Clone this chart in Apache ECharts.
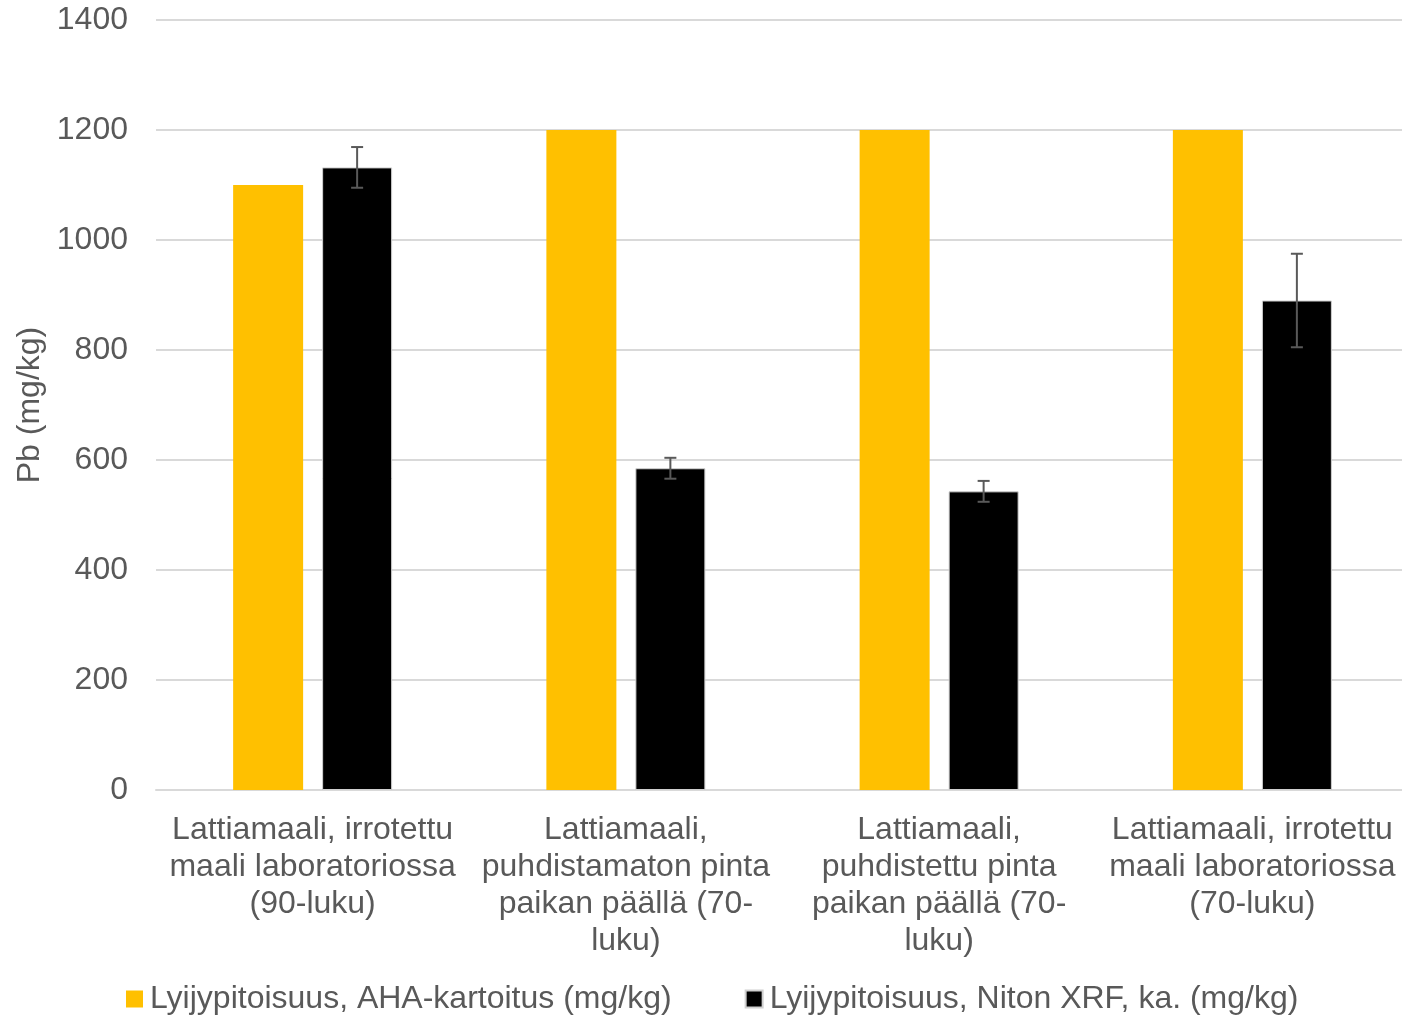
<!DOCTYPE html>
<html><head><meta charset="utf-8">
<script src="https://cdn.jsdelivr.net/npm/echarts@6/dist/echarts.min.js"></script>
<style>html,body{margin:0;padding:0;background:#fff;overflow:hidden}#c{width:1409px;height:1016px}</style>
</head><body><div id="c"></div>
<script>
const categories = [
  "Lattiamaali, irrotettu\nmaali laboratoriossa\n(90-luku)",
  "Lattiamaali,\npuhdistamaton pinta\npaikan päällä (70-\nluku)",
  "Lattiamaali,\npuhdistettu pinta\npaikan päällä (70-\nluku)",
  "Lattiamaali, irrotettu\nmaali laboratoriossa\n(70-luku)"
];
const seriesNames = ["Lyijypitoisuus, AHA-kartoitus (mg/kg)", "Lyijypitoisuus, Niton XRF, ka. (mg/kg)"];
const ahaValues = [1100, 1200, 1200, 1200];
const xrfValues = [1132, 585, 543, 890];
const xrfErrLow = [1095, 566, 524, 805];
const xrfErrHigh = [1169, 604, 562, 975];
const yTicks = [0, 200, 400, 600, 800, 1000, 1200, 1400];

const BAR_W = 70, GAP = 19;
const FONT = "'Liberation Sans', Arial, sans-serif";
const TXT = '#595959';
const FS = 32;

const chart = echarts.init(document.getElementById('c'), null, {renderer: 'canvas'});
chart.setOption({
  animation: false,
  textStyle: {fontFamily: FONT},
  grid: {left: 156, right: 0, top: 20, bottom: 226, containLabel: false},
  legend: {
    top: 978, left: 121,
    itemWidth: 17, itemHeight: 17, itemGap: 73,
    icon: 'rect',
    textStyle: {fontFamily: FONT, fontSize: FS, color: TXT, padding: [0, 0, 0, 2]},
    data: seriesNames
  },
  xAxis: {
    type: 'category', data: categories,
    axisTick: {show: false},
    axisLine: {lineStyle: {color: '#d9d9d9', width: 2}},
    axisLabel: {interval: 0, fontFamily: FONT, fontSize: FS, color: TXT, lineHeight: 37, margin: 22}
  },
  yAxis: {
    type: 'value', min: yTicks[0], max: yTicks[yTicks.length - 1], interval: 200,
    name: 'Pb (mg/kg)', nameLocation: 'middle', nameGap: 108,
    nameTextStyle: {fontFamily: FONT, fontSize: FS, color: TXT},
    axisLine: {show: false}, axisTick: {show: false},
    axisLabel: {fontFamily: FONT, fontSize: FS, color: TXT, margin: 28, formatter: v => String(v)},
    splitLine: {lineStyle: {color: '#d9d9d9', width: 2}}
  },
  series: [
    {name: seriesNames[0], type: 'bar', data: ahaValues, barWidth: BAR_W, barGap: (GAP / BAR_W * 100) + '%',
     itemStyle: {color: '#ffc000'}},
    {name: seriesNames[1], type: 'bar', data: xrfValues, barWidth: BAR_W,
     itemStyle: {color: '#000000', borderColor: '#d0d0d0', borderWidth: 1}},
    {type: 'custom', z: 10, silent: true,
     data: xrfValues.map((v, i) => [i, xrfErrLow[i], xrfErrHigh[i]]),
     renderItem: function (params, api) {
       const off = (BAR_W + GAP) / 2;
       const lo = api.coord([api.value(0), api.value(1)]);
       const hi = api.coord([api.value(0), api.value(2)]);
       const x = lo[0] + off, cap = 6;
       const st = {stroke: '#595959', lineWidth: 2};
       return {type: 'group', children: [
         {type: 'line', shape: {x1: x, y1: lo[1], x2: x, y2: hi[1]}, style: st},
         {type: 'line', shape: {x1: x - cap, y1: lo[1], x2: x + cap, y2: lo[1]}, style: st},
         {type: 'line', shape: {x1: x - cap, y1: hi[1], x2: x + cap, y2: hi[1]}, style: st}
       ]};
     }}
  ]
});
</script></body></html>
